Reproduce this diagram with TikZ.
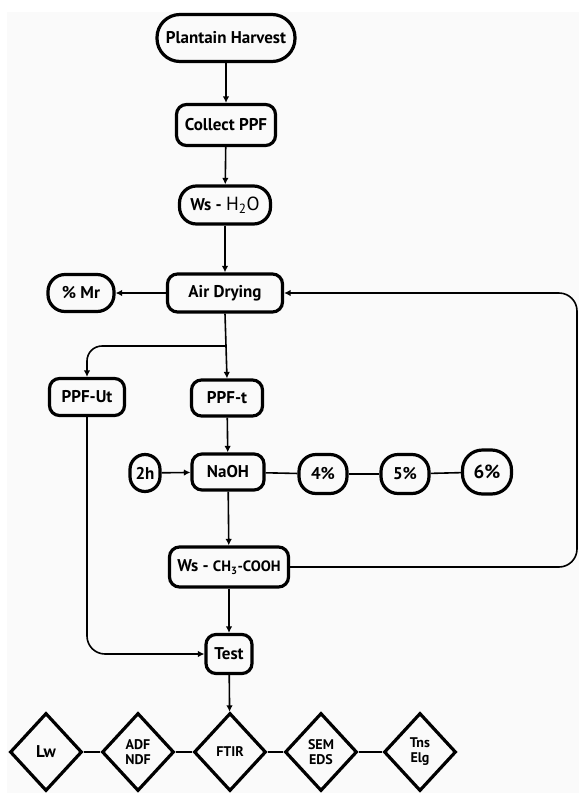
\documentclass[tikz,border=0pt]{standalone}
\usepackage{fontspec}
\setmainfont{PT Sans}
\usetikzlibrary{shapes.geometric,arrows.meta}
\begin{document}
\begin{tikzpicture}[x=1pt,y=-1pt,
  box/.style={draw, line width=3.2pt, rounded corners=#1, inner sep=0pt, fill=black!2,
    font=\bfseries\fontsize{17}{19}\selectfont},
  box/.default=10pt,
  dia/.style={draw, diamond, line width=3.2pt, inner sep=0pt, minimum width=72pt, minimum height=78pt,
    fill=black!2, align=center, font=\bfseries\fontsize{14}{15}\selectfont},
  arr/.style={line width=1.6pt, -{Latex[length=6.5pt,width=6.5pt]}},
  ln/.style={line width=1.6pt}
]
\useasboundingbox (0,0) rectangle (579,793);
\fill[black!2] (7,12) rectangle (579,793);

\node[box=23pt, minimum width=138pt, minimum height=47pt] (ph) at (226,38) {Plantain Harvest};
\node[box, minimum width=99pt, minimum height=41pt] (cp) at (226,125) {Collect PPF};
\node[box=17pt, minimum width=91pt, minimum height=38pt] (ws) at (225,205) {Ws - {\mdseries\fontsize{19}{20}\selectfont H\textsubscript{2}O}};
\node[box, minimum width=115pt, minimum height=38pt] (ad) at (225,293) {Air Drying};
\node[box=17pt, minimum width=66pt, minimum height=37pt] (mr) at (81,293) {\% Mr};
\node[box, minimum width=75pt, minimum height=37pt] (put) at (87,397) {PPF-Ut};
\node[box, minimum width=71pt, minimum height=36pt] (pt) at (227,398) {PPF-t};
\node[box, minimum width=72pt, minimum height=36pt] (naoh) at (228,472) {NaOH};
\node[box=15pt, minimum width=30pt, minimum height=37pt] (h2) at (145,473) {2h};
\node[box=17pt, minimum width=48pt, minimum height=39pt] (p4) at (323,474) {4\%};
\node[box=17pt, minimum width=48pt, minimum height=39pt] (p5) at (405,474) {5\%};
\node[box=20pt, minimum width=49pt, minimum height=44pt, font=\bfseries\fontsize{19}{21}\selectfont] (p6) at (487,472) {6\%};
\node[box, minimum width=119pt, minimum height=40pt] (ws2) at (229,567) {Ws - {\fontsize{15}{16}\selectfont CH\textsubscript{3}-COOH}};
\node[box, minimum width=46pt, minimum height=39pt] (test) at (229,654) {Test};

\node[dia, font=\bfseries\fontsize{17}{18}\selectfont] (d1) at (46,752) {Lw};
\node[dia] (d2) at (138,752) {ADF\\NDF};
\node[dia] (d3) at (230,752) {FTIR};
\node[dia] (d4) at (321,752) {SEM\\EDS};
\node[dia] (d5) at (420,752) {Tns\\Elg};

\coordinate (br) at (226,346);
\coordinate (rt) at (577,293);
\coordinate (rb) at (577,567);
\coordinate (lb) at (87,654);

\draw[arr] (ph) -- (cp);
\draw[arr] (cp) -- (ws);
\draw[arr] (ws) -- (ad);
\draw[arr] (ad) -- (mr);
\draw[arr] (ad.south) -- (pt.north);
\draw[arr, rounded corners=15pt] (br) -| (put.north);
\draw[arr] (pt) -- (naoh);
\draw[arr] (h2) -- (naoh);
\draw[ln] (naoh) -- (p4);
\draw[ln] (p4) -- (p5);
\draw[ln] (p5) -- (p6);
\draw[arr] (naoh) -- (ws2);
\draw[arr, rounded corners=18pt] (ws2.east) -- (rb) -- (rt) -- (ad.east);
\draw[arr] (ws2) -- (test);
\draw[arr, rounded corners=18pt] (put.south) -- (lb) -- (test.west);
\draw[arr] (test) -- (d3);
\draw[ln] (d1) -- (d2);
\draw[ln] (d2) -- (d3);
\draw[ln] (d3) -- (d4);
\draw[ln] (d4) -- (d5);
\end{tikzpicture}
\end{document}
